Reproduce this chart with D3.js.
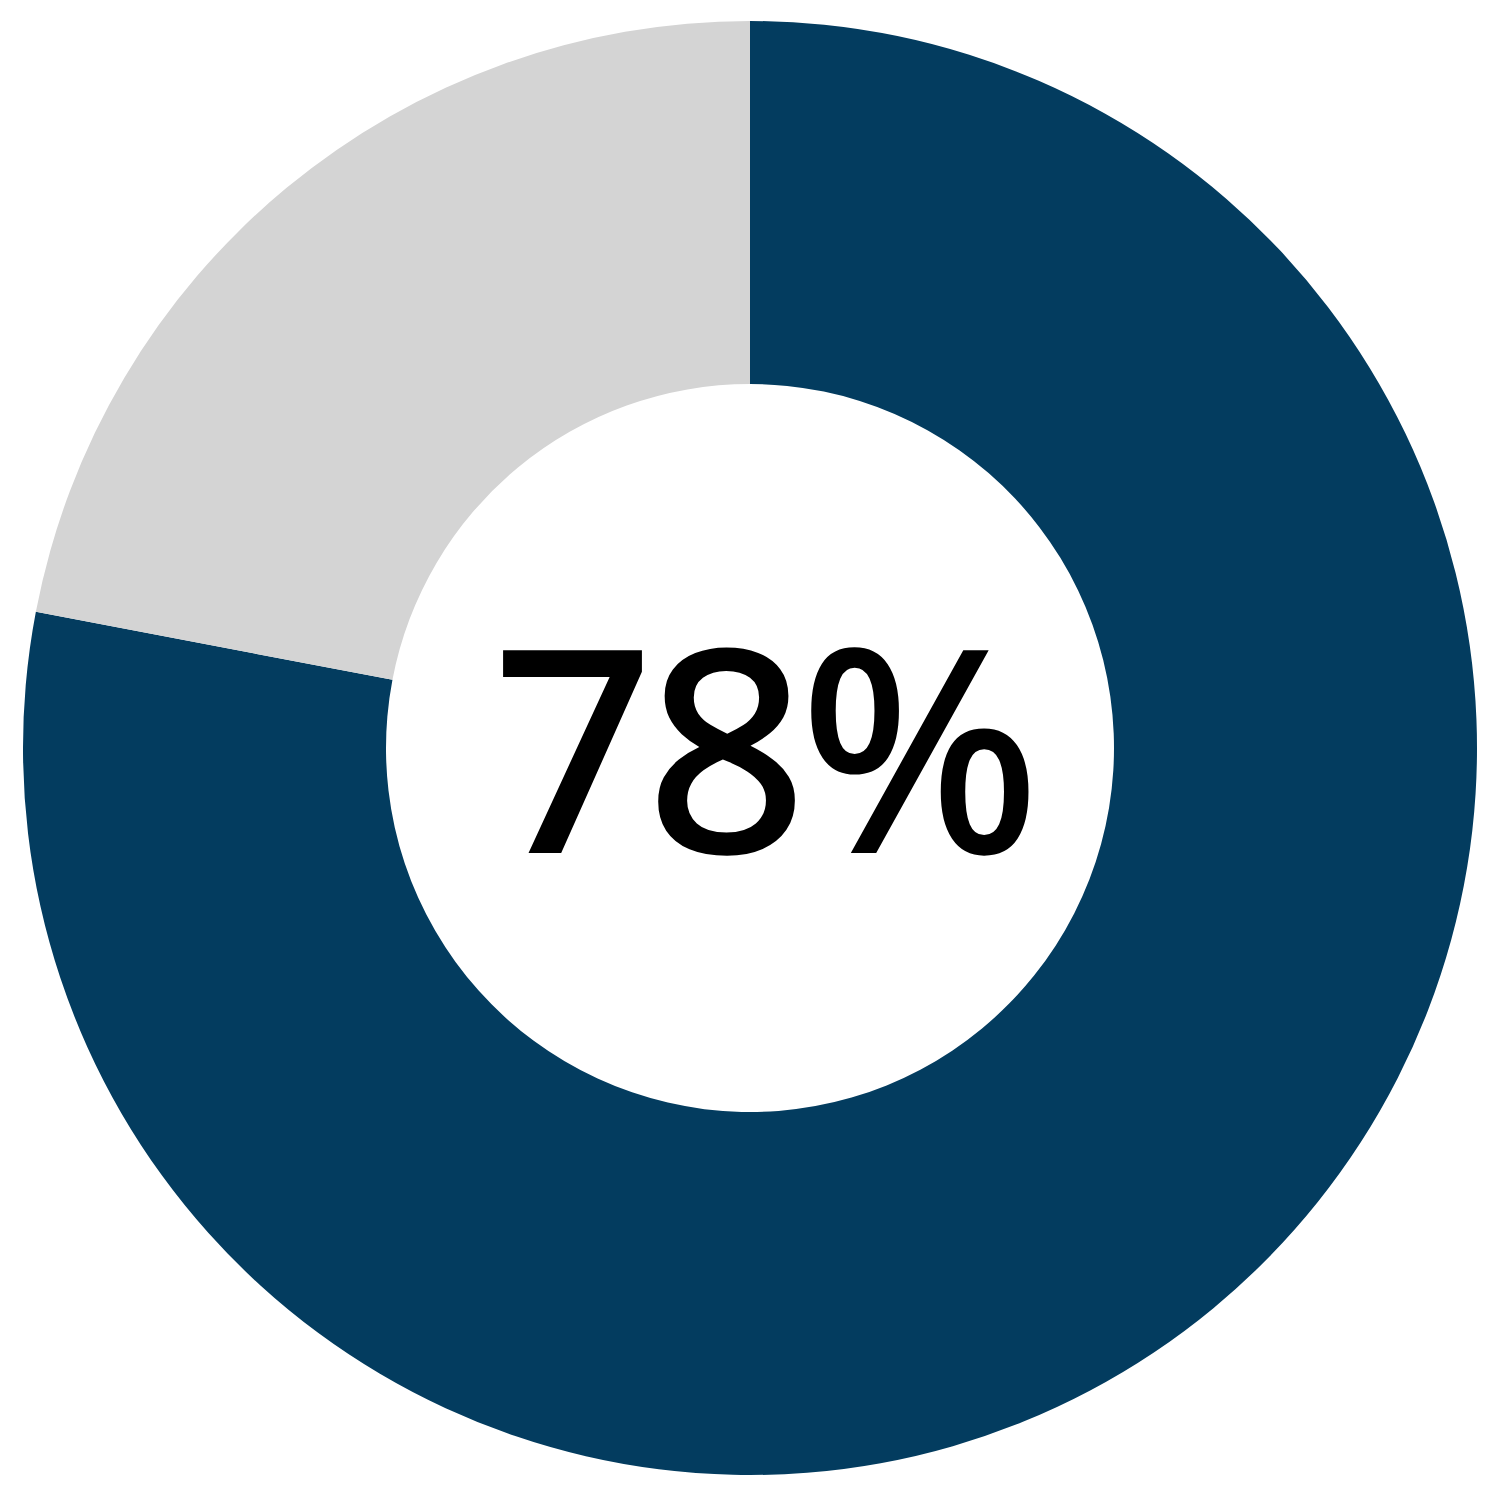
<!DOCTYPE html>
<html>
<head>
<meta charset="utf-8">
<script src="https://cdn.jsdelivr.net/npm/d3@7"></script>
<style>
  html, body { margin: 0; padding: 0; background: #fff; }
</style>
</head>
<body>
<svg id="chart"></svg>
<script>
  // data
  let categories = ['Yes', 'Other'];
  let values = [78, 22];
  let colors = ['#033c5f', '#d4d4d4'];
  let centerLabel = '78%';

  let width = 1500;
  let height = 1500;
  let cx = 750;
  let cy = 748;
  let outerRadius = 727;
  let innerRadius = 364;

  let svg = d3.select('#chart')
    .attr('width', width)
    .attr('height', height)
    .attr('viewBox', `0 0 ${width} ${height}`);

  let g = svg.append('g')
    .attr('transform', `translate(${cx},${cy})`);

  let pie = d3.pie()
    .sort(null)
    .value((d) => d);

  let arc = d3.arc()
    .innerRadius(innerRadius)
    .outerRadius(outerRadius);

  g.selectAll('path.slice')
    .data(pie(values))
    .enter().append('path')
    .attr('class', 'slice')
    .attr('d', arc)
    .style('fill', (d, i) => colors[i]);

  // 中间的百分比
  g.append('text')
    .attr('x', -258)
    .attr('y', 105)
    .attr('text-anchor', 'start')
    .attr('font-family', 'Noto Sans')
    .attr('font-weight', 500)
    .attr('font-size', 284)
    .attr('letter-spacing', -9)
    .attr('fill', '#000')
    .text(centerLabel);
</script>
</body>
</html>
